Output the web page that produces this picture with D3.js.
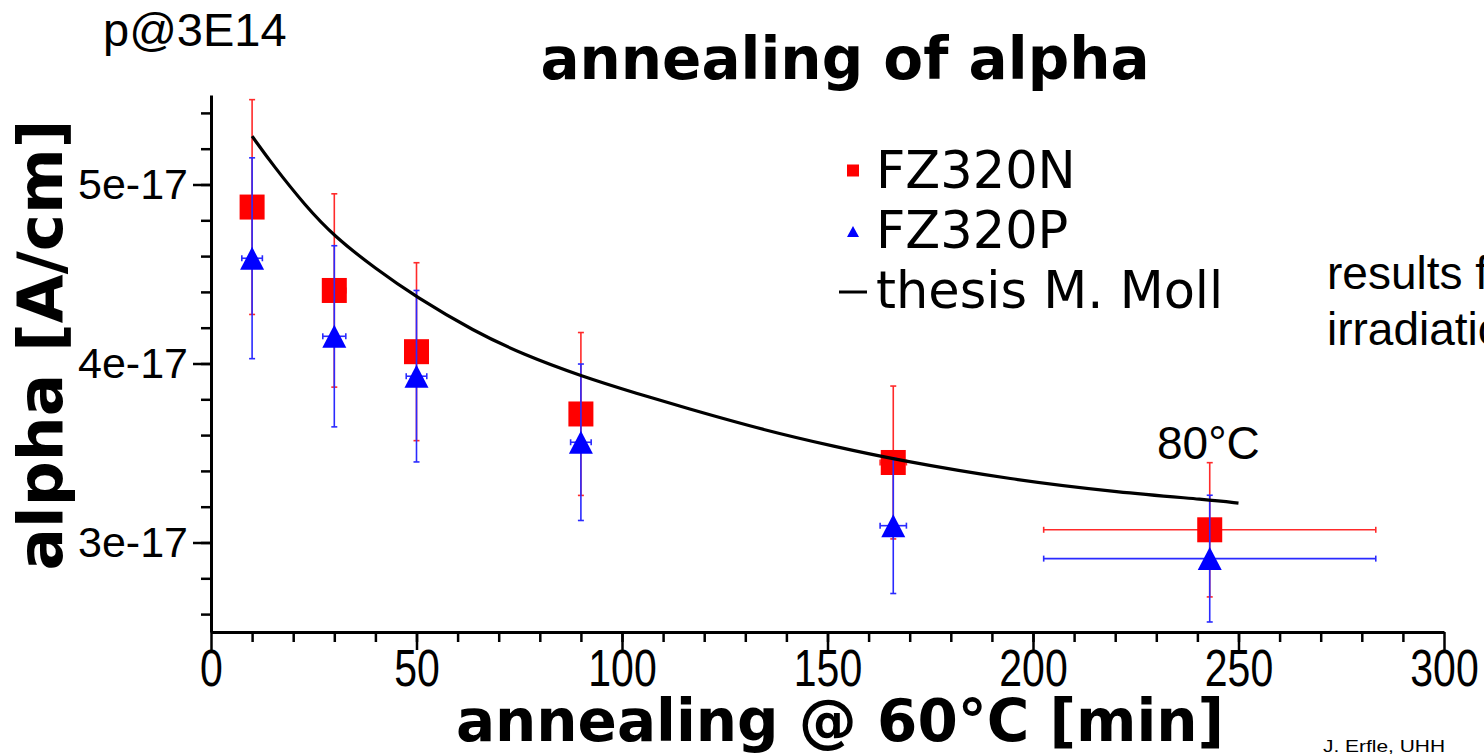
<!DOCTYPE html>
<html>
<head>
<meta charset="utf-8">
<script src="https://cdn.jsdelivr.net/npm/d3@7"></script>
<style>
  body { margin: 0; background: #fff; overflow: hidden; }
  svg { display: block; }
  .axis text { font-family: "Liberation Sans", Arial, sans-serif; fill: #000; }
  .axis path, .axis line { stroke: #000; }
</style>
</head>
<body>
<div id="container"></div>
<script>
// annealing time [min] and error on it
var times = [10, 30, 50, 90, 166, 243];
var timeErr = [2.5, 2.8, 2.5, 2.5, 3.2, 40.4];

// alpha in units of 1e-17 A/cm
var fz320n = [4.874, 4.408, 4.066, 3.718, 3.447, 3.071];
var fz320nErr = [0.600, 0.540, 0.497, 0.455, 0.427, 0.375];
var fz320p = [4.588, 4.152, 3.929, 3.560, 3.094, 2.910];
var fz320pErr = [0.561, 0.506, 0.479, 0.437, 0.379, 0.354];

// curve from thesis M. Moll
var thesisTime = [10, 15, 23, 30, 40, 50, 64, 76, 90, 104, 115, 135, 152, 166, 195, 221, 243, 250];
var thesisAlpha = [5.27, 5.11, 4.88, 4.71, 4.53, 4.37, 4.18, 4.05, 3.93, 3.83, 3.755, 3.625, 3.535, 3.465, 3.35, 3.28, 3.238, 3.22];

var xMajor = [0, 50, 100, 150, 200, 250, 300];
var yMajor = [3, 4, 5];
var yTickLabels = ["3e-17", "4e-17", "5e-17"];
var legendNames = ["FZ320N", "FZ320P", "thesis M. Moll"];

var width = 1484, height = 756;

var svg = d3.select("#container").append("svg")
    .attr("width", width)
    .attr("height", height);

var x = d3.scaleLinear().domain([0, 300]).range([211, 1444]);
var y = d3.scaleLinear().domain([2.5, 5.5]).range([632, 95]);

// axes: minor ticks first, then major with labels
svg.append("g")
   .attr("class", "axis")
   .attr("transform", "translate(0," + y(2.5) + ")")
   .call(d3.axisBottom(x).tickValues(d3.range(10, 300, 10)).tickSize(10).tickFormat(""))
   .call(g => g.select(".domain").remove())
   .selectAll("line").attr("stroke-width", 2.5);

var labelStretch = 1.27;
var gx = svg.append("g")
   .attr("class", "axis")
   .attr("transform", "translate(0," + y(2.5) + ")")
   .call(d3.axisBottom(x).tickValues(xMajor).tickSize(18).tickSizeOuter(0));
gx.select(".domain").attr("stroke-width", 3);
gx.selectAll("line").attr("stroke-width", 2.5);
gx.selectAll("text")
  .attr("font-size", 41)
  .attr("y", 17 / labelStretch)
  .attr("transform", "scale(1," + labelStretch + ")");

svg.append("g")
   .attr("class", "axis")
   .attr("transform", "translate(" + x(0) + ",0)")
   .call(d3.axisLeft(y).tickValues(d3.range(2.6, 5.45, 0.2)).tickSize(10).tickFormat(""))
   .call(g => g.select(".domain").remove())
   .selectAll("line").attr("stroke-width", 2.5);

var gy = svg.append("g")
   .attr("class", "axis")
   .attr("transform", "translate(" + x(0) + ",0)")
   .call(d3.axisLeft(y).tickValues(yMajor).tickSize(18).tickSizeOuter(0).tickPadding(5)
         .tickFormat((d, i) => yTickLabels[i]));
gy.select(".domain").attr("stroke-width", 3);
gy.selectAll("line").attr("stroke-width", 2.5);
gy.selectAll("text").attr("font-size", 43);

// error bars
function errorBars(vals, errs, color) {
    var g = svg.append("g").attr("stroke", color).attr("stroke-width", 1.6).attr("fill", "none");
    times.forEach(function (t, i) {
        var cx = x(t), cy = y(vals[i]);
        var y0 = y(vals[i] - errs[i]), y1 = y(vals[i] + errs[i]);
        var x0 = x(t - timeErr[i]), x1 = x(t + timeErr[i]);
        g.append("line").attr("x1", cx).attr("x2", cx).attr("y1", y0).attr("y2", y1);
        g.append("line").attr("x1", cx - 3).attr("x2", cx + 3).attr("y1", y0).attr("y2", y0);
        g.append("line").attr("x1", cx - 3).attr("x2", cx + 3).attr("y1", y1).attr("y2", y1);
        g.append("line").attr("x1", x0).attr("x2", x1).attr("y1", cy).attr("y2", cy);
        g.append("line").attr("x1", x0).attr("x2", x0).attr("y1", cy - 3).attr("y2", cy + 3);
        g.append("line").attr("x1", x1).attr("x2", x1).attr("y1", cy - 3).attr("y2", cy + 3);
    });
}

function triangle(cx, cy, w, h) {
    return "M" + cx + "," + (cy - h / 2) + "L" + (cx + w / 2) + "," + (cy + h / 2) +
           "L" + (cx - w / 2) + "," + (cy + h / 2) + "Z";
}

errorBars(fz320n, fz320nErr, "#ff2a2a");
svg.append("g").selectAll("rect")
   .data(times)
   .enter()
   .append("rect")
   .attr("x", (d) => x(d) - 12.5)
   .attr("y", (d, i) => y(fz320n[i]) - 12.5)
   .attr("width", 25)
   .attr("height", 25)
   .attr("fill", "#ff0000");

errorBars(fz320p, fz320pErr, "#2a2aff");
svg.append("g").selectAll("path")
   .data(times)
   .enter()
   .append("path")
   .attr("d", (d, i) => triangle(x(d), y(fz320p[i]), 24, 23))
   .attr("fill", "#0000ff");

var line = d3.line()
    .x((d) => x(d))
    .y((d, i) => y(thesisAlpha[i]))
    .curve(d3.curveBasis);

svg.append("path")
   .attr("d", line(thesisTime))
   .attr("fill", "none")
   .attr("stroke", "#000")
   .attr("stroke-width", 3.2);

// legend
var legend = svg.append("g").attr("font-family", "'DejaVu Sans', sans-serif").attr("font-size", 51);
legendNames.forEach(function (name, i) {
    legend.append("text").attr("x", 876).attr("y", 188 + i * 60).text(name);
});
legend.append("rect").attr("x", 847).attr("y", 164.5).attr("width", 12).attr("height", 12).attr("fill", "#ff0000");
legend.append("path").attr("d", triangle(853, 231.5, 12, 11)).attr("fill", "#0000ff");
legend.append("line").attr("x1", 839).attr("x2", 867).attr("y1", 292).attr("y2", 292)
      .attr("stroke", "#000").attr("stroke-width", 3);

// titles
svg.append("text")
   .attr("x", 845).attr("y", 79)
   .attr("text-anchor", "middle")
   .attr("font-family", "'DejaVu Sans', sans-serif")
   .attr("font-weight", "bold")
   .attr("font-size", 58)
   .text("annealing of alpha");

svg.append("text")
   .attr("x", 840).attr("y", 741)
   .attr("text-anchor", "middle")
   .attr("font-family", "'DejaVu Sans', sans-serif")
   .attr("font-weight", "bold")
   .attr("font-size", 58)
   .text("annealing @ 60°C [min]");

svg.append("text")
   .attr("transform", "translate(62,345) rotate(-90)")
   .attr("text-anchor", "middle")
   .attr("font-family", "'DejaVu Sans', sans-serif")
   .attr("font-weight", "bold")
   .attr("font-size", 63)
   .text("alpha [A/cm]");

// annotations
var arial = "'Liberation Sans', Arial, sans-serif";
svg.append("text").attr("x", 103).attr("y", 46).attr("font-family", arial).attr("font-size", 47).text("p@3E14");
svg.append("text").attr("x", 1157).attr("y", 459).attr("font-family", arial).attr("font-size", 46).text("80°C");
svg.append("text").attr("x", 1327).attr("y", 289).attr("font-family", arial).attr("font-size", 46).text("results for");
svg.append("text").attr("x", 1327).attr("y", 345).attr("font-family", arial).attr("font-size", 46).text("irradiation");
svg.append("text").attr("x", 1323).attr("y", 752).attr("font-family", arial).attr("font-size", 17)
   .attr("textLength", 122).attr("lengthAdjust", "spacingAndGlyphs").text("J. Erfle, UHH");
</script>
</body>
</html>
